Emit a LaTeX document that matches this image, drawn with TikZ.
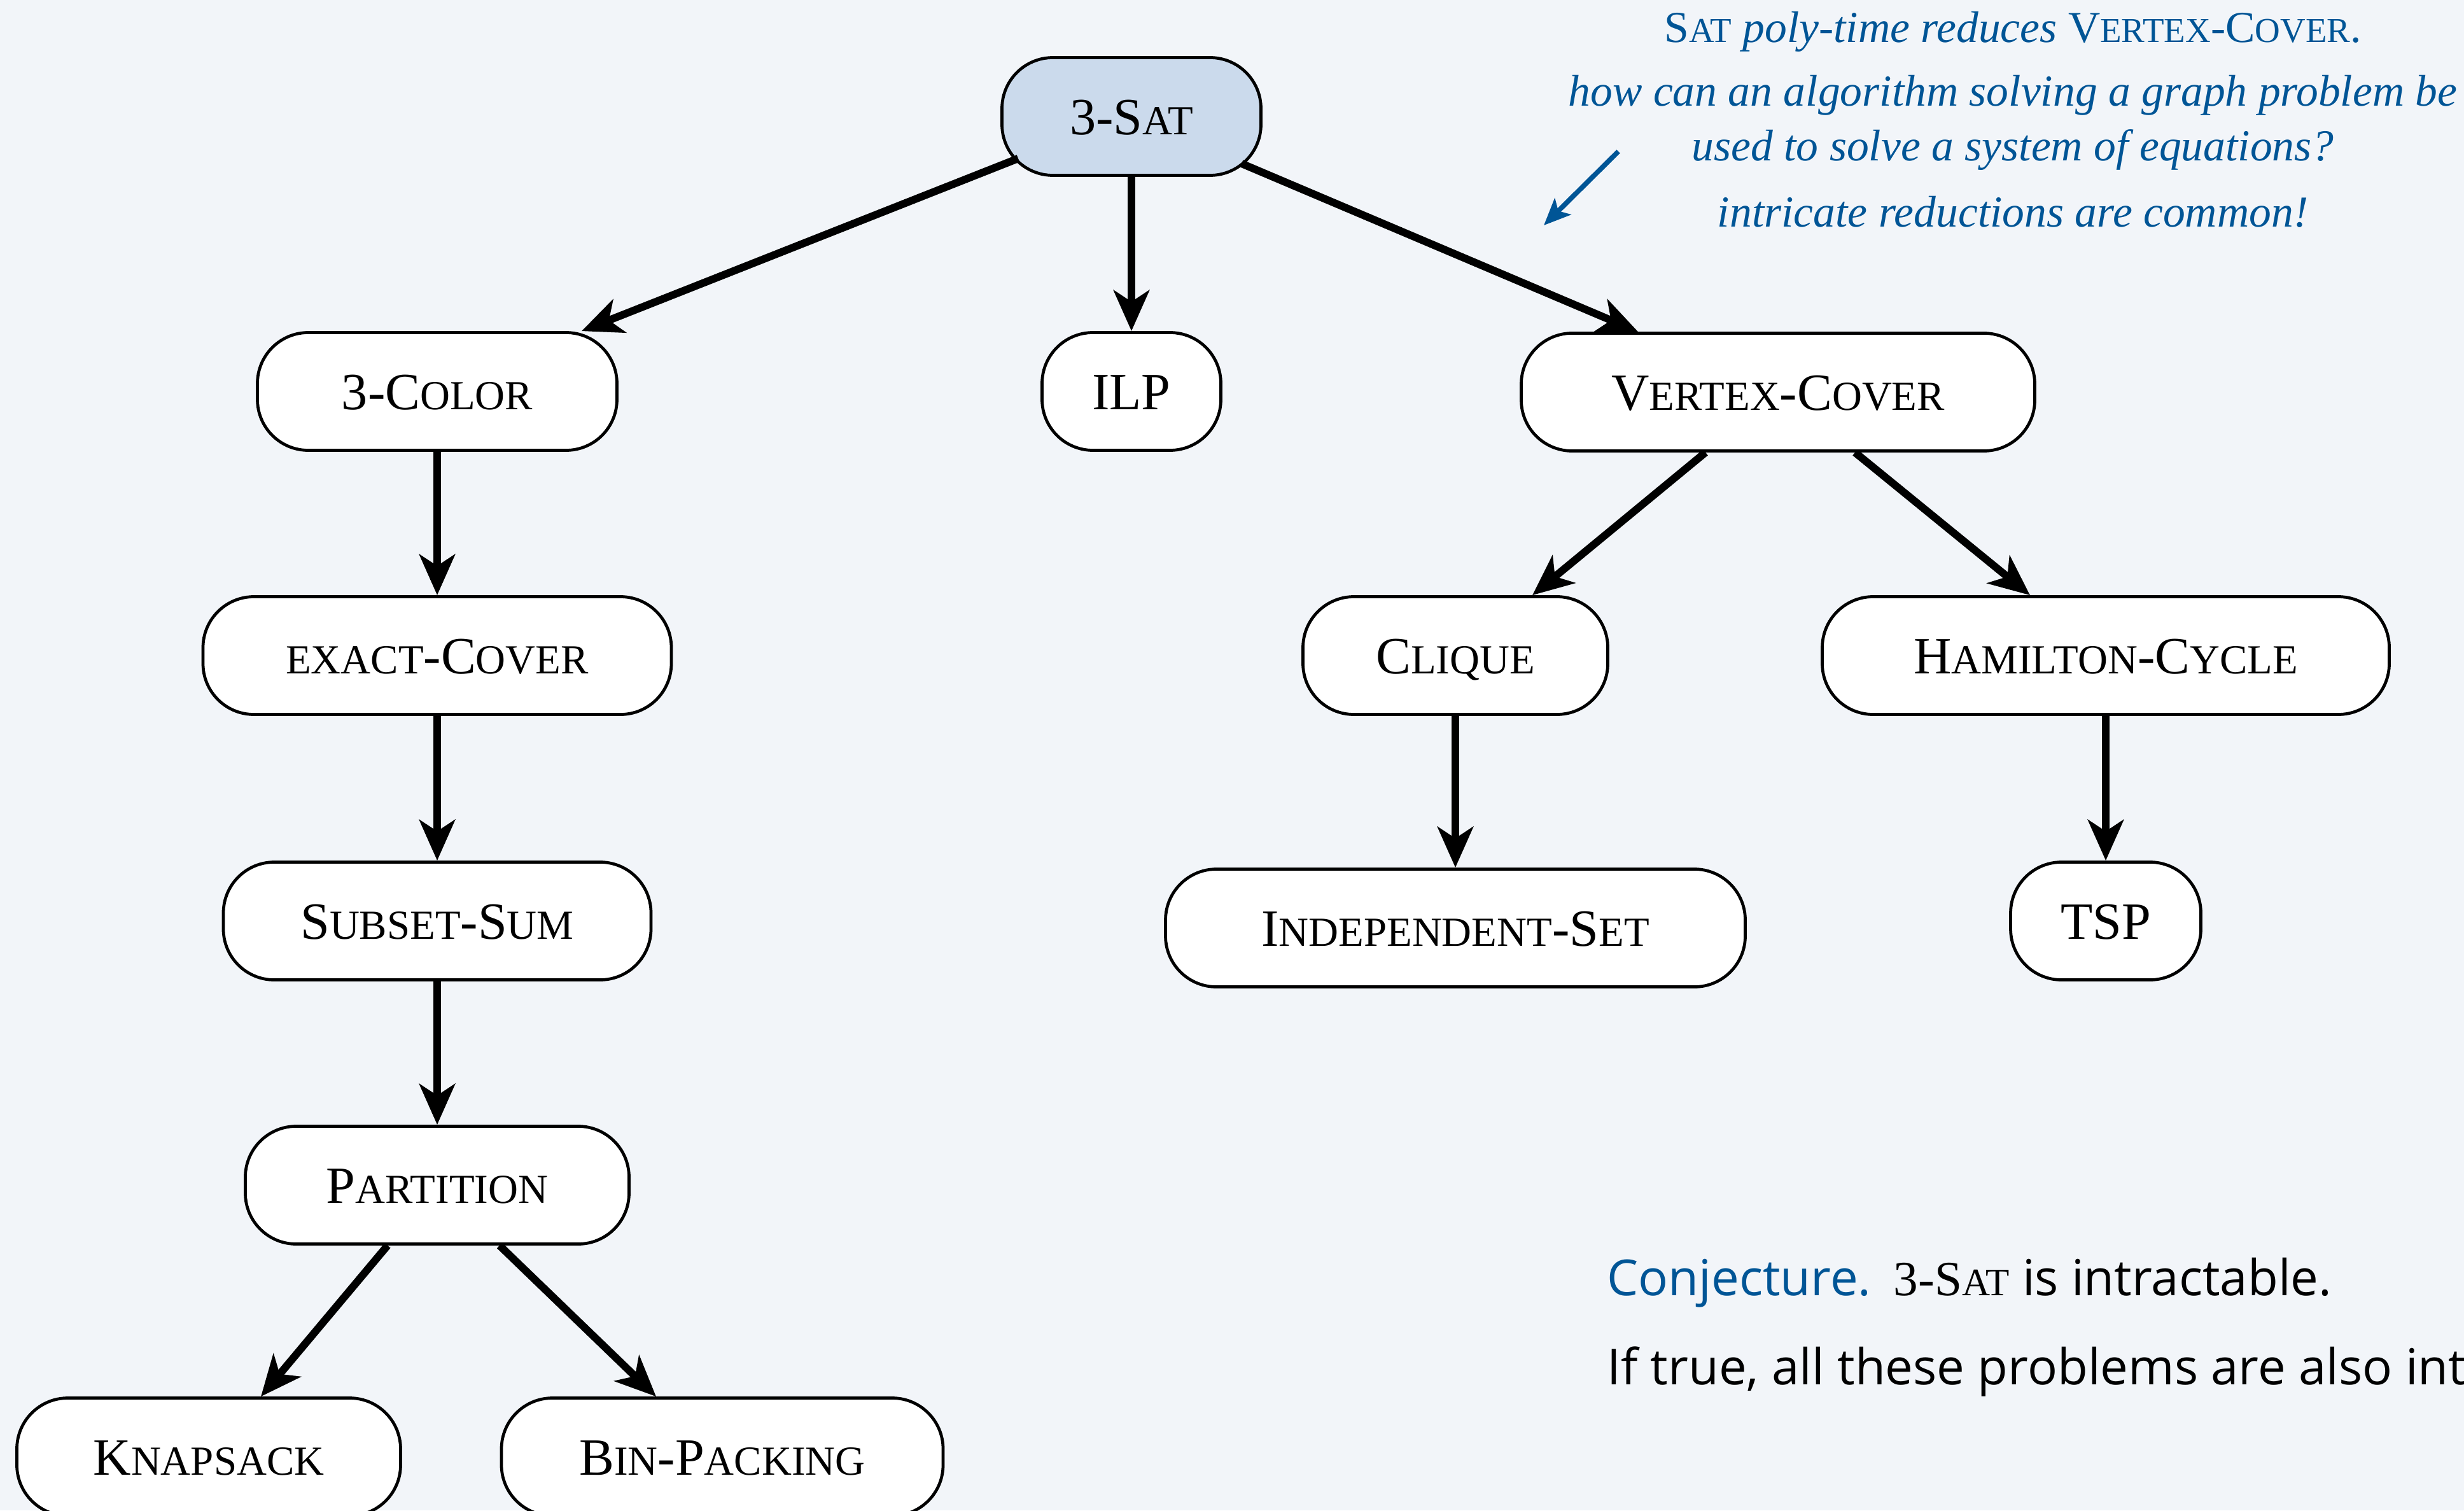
\documentclass[tikz,border=0pt]{standalone}
\usepackage{fontspec}
\setmainfont{Liberation Serif}
\newfontfamily\opensans{Open Sans}
\usetikzlibrary{arrows.meta,calc}

\definecolor{bgcol}{RGB}{242,245,249}
\definecolor{satfill}{RGB}{203,218,236}
\definecolor{noteblue}{RGB}{0,85,150}

% fake small capitals: upper-case letters set smaller
\newcommand{\smcaps}[1]{\scalebox{0.79}{#1}}

\tikzset{
  prob/.style={draw, line width=1.35pt, rounded corners=0.8cm, fill=white,
    minimum height=1.85cm, inner xsep=0pt, text height=0.56cm, text depth=0pt,
    font=\fontsize{23.4}{28}\selectfont},
  arr/.style={-{Stealth[length=0.64cm,width=0.56cm,inset=0.18cm]}, line width=3.4pt},
  note/.style={text=noteblue, font=\fontsize{19.8}{24}\selectfont\itshape, anchor=base},
  notearr/.style={-{Stealth[length=0.42cm,width=0.36cm,inset=0.1cm]}, line width=2.2pt, noteblue},
  conj/.style={anchor=base west, font=\opensans\fontsize{22.2}{26}\selectfont}
}

\begin{document}
\begin{tikzpicture}
\useasboundingbox (0,0) rectangle (38.72,-23.73);
\clip (0,0) rectangle (38.72,-23.73);
\fill[bgcol] (0,0) rectangle (38.72,-23.73);

% problems
\node[prob, fill=satfill, minimum width=4.07cm] (sat) at (17.78,-1.83) {3-S\smcaps{AT}};
\node[prob, minimum width=5.65cm] (color) at (6.87,-6.15) {3-C\smcaps{OLOR}};
\node[prob, minimum width=2.81cm] (ilp) at (17.78,-6.15) {ILP};
\node[prob, minimum width=8.07cm] (vc) at (27.94,-6.16) {V\smcaps{ERTEX}-C\smcaps{OVER}};
\node[prob, minimum width=7.36cm] (exact) at (6.87,-10.30) {\smcaps{EXACT}-C\smcaps{OVER}};
\node[prob, minimum width=4.79cm] (clique) at (22.87,-10.30) {C\smcaps{LIQUE}};
\node[prob, minimum width=8.91cm] (ham) at (33.09,-10.30) {H\smcaps{AMILTON}-C\smcaps{YCLE}};
\node[prob, minimum width=6.72cm] (subset) at (6.87,-14.47) {S\smcaps{UBSET}-S\smcaps{UM}};
\node[prob, minimum width=9.11cm] (indep) at (22.87,-14.58) {I\smcaps{NDEPENDENT}-S\smcaps{ET}};
\node[prob, minimum width=2.99cm] (tsp) at (33.09,-14.47) {TSP};
\node[prob, minimum width=6.03cm] (part) at (6.87,-18.62) {P\smcaps{ARTITION}};
\node[prob, minimum width=6.03cm] (knap) at (3.28,-22.89) {K\smcaps{NAPSACK}};
\node[prob, minimum width=6.94cm] (bin) at (11.35,-22.89) {B\smcaps{IN}-P\smcaps{ACKING}};

% reductions
\draw[arr] ($(sat.center)+(-1.78,-0.66)$) -- ($(color.north)+(2.27,0)$);
\draw[arr] (sat.south) -- (ilp.north);
\draw[arr] ($(sat.center)+(1.73,-0.74)$) -- ($(vc.north)+(-2.2,0)$);
\draw[arr] (color.south) -- (exact.north);
\draw[arr] (exact.south) -- (subset.north);
\draw[arr] (subset.south) -- (part.north);
\draw[arr] ($(part.south)+(-0.78,0)$) -- ($(knap.north)+(0.82,0)$);
\draw[arr] ($(part.south)+(0.98,0)$) -- ($(bin.north)+(-1.04,0)$);
\draw[arr] ($(vc.south)+(-1.14,0)$) -- ($(clique.north)+(1.21,0)$);
\draw[arr] ($(vc.south)+(1.21,0)$) -- ($(ham.north)+(-1.19,0)$);
\draw[arr] (clique.south) -- (indep.north);
\draw[arr] (ham.south) -- (tsp.north);

% remarks
\node[note] (n1) at (31.63,-0.67) {\upshape S\smcaps{AT} \itshape poly-time reduces \upshape V\smcaps{ERTEX}-C\smcaps{OVER}.};
\node[note] (n2) at (31.63,-1.67) {how can an algorithm solving a graph problem be};
\node[note] (n3) at (31.63,-2.52) {used to solve a system of equations?};
\node[note] (n4) at (31.63,-3.56) {intricate reductions are common!};
\coordinate (a1) at (25.43,-2.38);
\coordinate (a2) at (24.26,-3.54);
\draw[notearr] (a1) -- (a2);

\node[conj] (c1) at (25.13,-20.35) {\textcolor{noteblue}{Conjecture.}\hspace{0.45em}{\rmfamily\fontsize{22}{26}\selectfont 3-S\smcaps{AT}} is intractable.};
\node[conj] (c2) at (25.13,-21.75) {If true, all these problems are also intractable.};
\end{tikzpicture}
\end{document}
